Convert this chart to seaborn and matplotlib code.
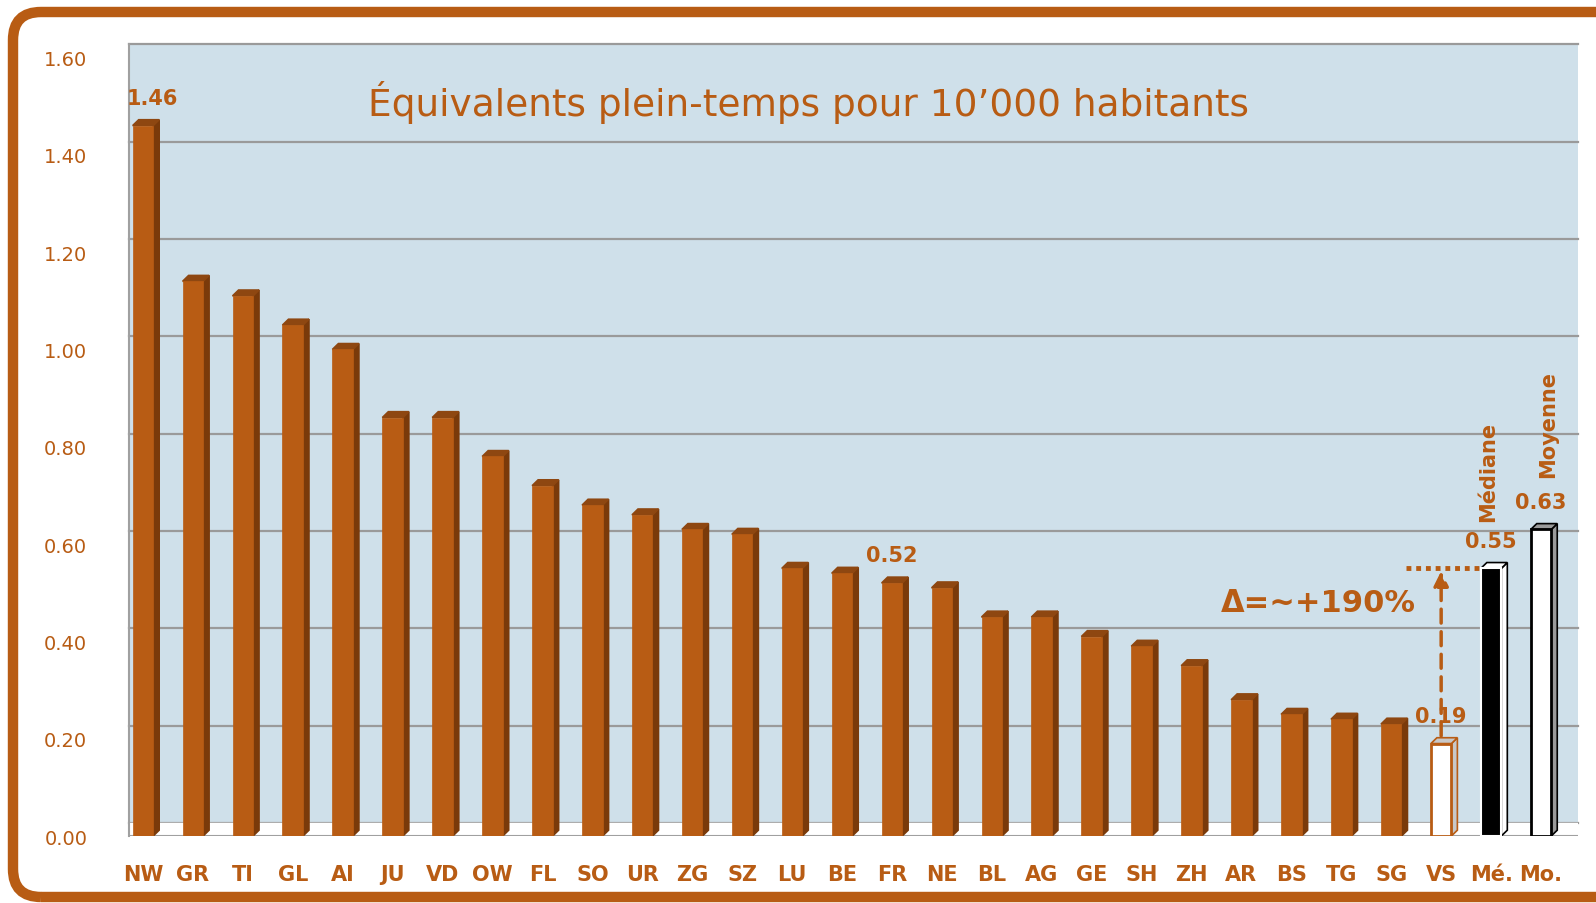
import numpy as np
import pandas as pd
import matplotlib
matplotlib.use("Agg")
import matplotlib.pyplot as plt
import matplotlib.transforms as mtransforms
from matplotlib.patches import Polygon, FancyBboxPatch
import seaborn as sns

# --- data ---
cantons = ["NW", "GR", "TI", "GL", "AI", "JU", "VD", "OW", "FL", "SO", "UR", "ZG",
           "SZ", "LU", "BE", "FR", "NE", "BL", "AG", "GE", "SH", "ZH", "AR", "BS",
           "TG", "SG", "VS", "Mé.", "Mo."]
etp = [1.46, 1.14, 1.11, 1.05, 1.00, 0.86, 0.86, 0.78, 0.72, 0.68, 0.66, 0.63,
       0.62, 0.55, 0.54, 0.52, 0.51, 0.45, 0.45, 0.41, 0.39, 0.35, 0.28, 0.25,
       0.24, 0.23, 0.19, 0.55, 0.63]
labelled = {"NW": "1.46", "FR": "0.52", "VS": "0.19", "Mé.": "0.55", "Mo.": "0.63"}
yticks = [0.0, 0.2, 0.4, 0.6, 0.8, 1.0, 1.2, 1.4, 1.6]
title = "Équivalents plein-temps pour 10’000 habitants"
delta_txt = "Δ=~+190%"

BROWN = "#B85C14"
SIDE = "#7A3A0A"
TOP = "#8E4711"
BG = "#CFE0EA"

face = {c: BROWN for c in cantons}
face["VS"] = "white"
face["Mé."] = "black"
face["Mo."] = "white"
edge = {c: BROWN for c in cantons}
edge["VS"] = BROWN
edge["Mé."] = "white"
edge["Mo."] = "black"
side = {c: SIDE for c in cantons}
side["VS"] = "#C8C8C8"
side["Mé."] = "white"
side["Mo."] = "#9A9A9A"

df = pd.DataFrame({"canton": cantons, "etp": etp})

fig = plt.figure(figsize=(15.96, 9.04), dpi=100)
ax = fig.add_axes([0.0808, 0.0741, 0.9079, 0.8761])
ax.set_facecolor(BG)

sns.barplot(data=df, x="canton", y="etp", hue="canton", palette=face,
            legend=False, width=0.41, saturation=1, ax=ax, zorder=3)
bars = sorted(list(ax.patches), key=lambda p: p.get_x())

ax.set_xlim(-0.28, 28.74)
ax.set_ylim(0, 1.6276)

# back-wall gridlines, shifted up like the 3D original
shift = mtransforms.ScaledTranslation(0, 13 / 100, fig.dpi_scale_trans)
for v in yticks:
    ax.plot([0, 1], [v, v], color="#9A9A9A", lw=1.6, zorder=1,
            transform=ax.get_yaxis_transform() + shift, clip_on=False)
# floor
ax.axhspan(0, 13 / 486.6, color="white", zorder=1.5)
ax.axhline(0, color="#A0A0A0", lw=1.5, zorder=1.6)

# 3D side and top faces for each bar
dx, dy = 0.12, 0.012
for bar, c in zip(bars, cantons):
    x0, w, h = bar.get_x(), bar.get_width(), bar.get_height()
    bar.set_edgecolor(edge[c])
    bar.set_linewidth(2 if c in ("VS", "Mo.") else (1.5 if c == "Mé." else 0.5))
    sc = side[c]
    special = c in ("VS", "Mé.", "Mo.")
    ec = edge[c] if c != "Mé." else "black"
    ax.add_patch(Polygon([(x0 + w, 0), (x0 + w + dx, dy), (x0 + w + dx, h + dy), (x0 + w, h)],
                         closed=True, facecolor=sc, edgecolor=ec if special else sc,
                         lw=1.2, zorder=2.9))
    tc = sc if special else TOP
    ax.add_patch(Polygon([(x0, h), (x0 + w, h), (x0 + w + dx, h + dy), (x0 + dx, h + dy)],
                         closed=True, facecolor=tc, edgecolor=ec if special else tc,
                         lw=1.2, zorder=2.9))

# value labels
pos = {c: i for i, c in enumerate(cantons)}
for c, txt in labelled.items():
    xoff = 7 if c == "NW" else 0
    ax.annotate(txt, (pos[c], etp[pos[c]]), xytext=(xoff, 20), textcoords="offset points",
                ha="center", va="center", fontsize=15, fontweight="bold",
                color=BROWN, zorder=5)
ax.annotate("Médiane", (pos["Mé."], etp[pos["Mé."]]), xytext=(-2, 34),
            textcoords="offset points", rotation=90, ha="center", va="bottom",
            fontsize=15, fontweight="bold", color=BROWN)
ax.annotate("Moyenne", (pos["Mo."], etp[pos["Mo."]]), xytext=(5, 38),
            textcoords="offset points", rotation=90, ha="center", va="bottom",
            fontsize=15, fontweight="bold", color=BROWN)

# median-vs-VS arrow
vs_i, med_i = pos["VS"], pos["Mé."]
vs_v, med_v = etp[vs_i], etp[med_i]
ax.annotate("", xy=(vs_i, med_v), xytext=(vs_i, vs_v + 0.01),
            arrowprops=dict(arrowstyle="-|>", color=BROWN, lw=2.5,
                            linestyle=(0, (4, 2.5)), mutation_scale=22),
            zorder=6)
ax.plot([vs_i - 0.7, med_i - 0.22], [med_v, med_v], color=BROWN, lw=3.5,
        linestyle=(0, (1, 1)), zorder=6)
ax.text(vs_i - 2.45, (vs_v + med_v) / 2 + 0.11, delta_txt, ha="center", va="center",
        fontsize=22, fontweight="bold", color=BROWN, zorder=6)

ax.text(0.469, 0.928, title, transform=ax.transAxes, ha="center", va="center",
        fontsize=27, color=BROWN)

ax.set_yticks(yticks)
ax.set_yticklabels([f"{v:.2f}" for v in yticks])
ax.tick_params(axis="y", length=0, pad=30, labelsize=14, labelcolor=BROWN)
ax.tick_params(axis="x", length=0, pad=20, labelsize=15, labelcolor=BROWN)
for t in ax.get_xticklabels():
    t.set_fontweight("bold")
ax.set_xlabel("")
ax.set_ylabel("")
for s in ["top", "right", "bottom"]:
    ax.spines[s].set_visible(False)
ax.spines["left"].set_color("#A0A0A0")
ax.spines["left"].set_linewidth(1.5)

# rounded brown frame round the whole picture
frame = FancyBboxPatch((13, 6), 1620, 885, boxstyle="round,pad=0,rounding_size=28",
                       transform=mtransforms.IdentityTransform(), facecolor="none",
                       edgecolor=BROWN, lw=7.5, zorder=10)
fig.patches.append(frame)

fig.savefig("out.png", dpi=100)
